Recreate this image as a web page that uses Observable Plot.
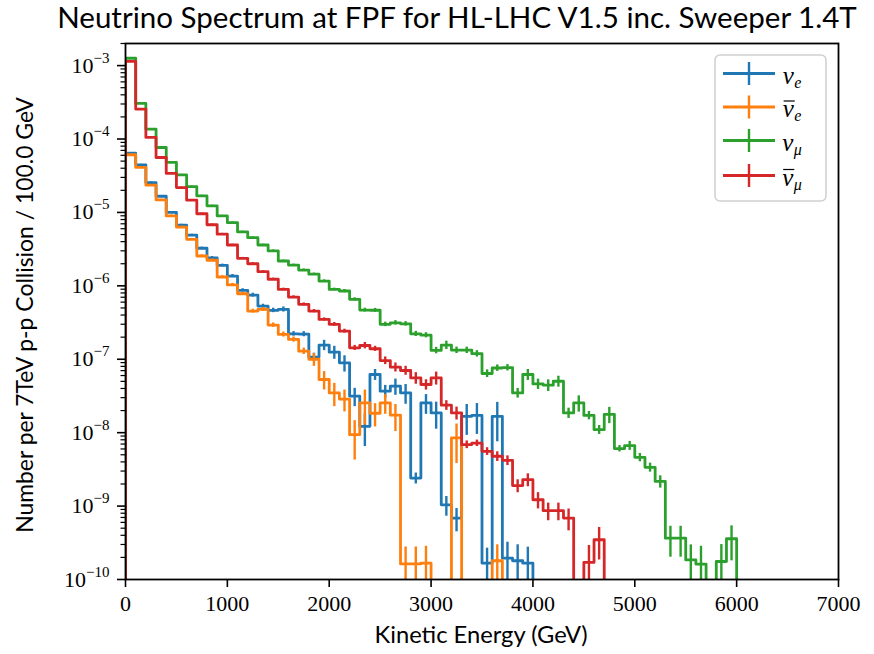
<!DOCTYPE html>
<html>
<head>
<meta charset="utf-8">
<script src="https://cdn.jsdelivr.net/npm/d3@7"></script>
<script src="https://cdn.jsdelivr.net/npm/@observablehq/plot@0.6"></script>
<style>
  body { margin: 0; background: #fff; }
  #chart { width: 874px; height: 654px; }
</style>
</head>
<body>
<div id="chart"></div>
<script>
// ---------------- data ----------------
const binWidth = 100; // GeV
const xTicks = [0, 1000, 2000, 3000, 4000, 5000, 6000, 7000];
const yTicks = [1e-10, 1e-9, 1e-8, 1e-7, 1e-6, 1e-5, 1e-4, 1e-3];
const yDomain = [1e-10, 2e-3];

const seriesKeys = ["nu_e", "nu_e_bar", "nu_mu", "nu_mu_bar"];
const seriesColors = ["#1f77b4", "#ff7f0e", "#2ca02c", "#d62728"];

// per-bin contents (bins of 100 GeV starting at 0); 0 = empty bin
const nuE = [6.4e-5, 4.45e-5, 2.55e-5, 1.66e-5, 1.0e-5, 6.7e-6, 4.9e-6, 3.25e-6, 2.41e-6, 1.9e-6,
  1.36e-6, 8.7e-7, 7.48e-7, 5.3e-7, 4.64e-7, 4.78e-7, 2.22e-7, 2.2e-7, 1.07e-7, 1.56e-7,
  1.25e-7, 8.93e-8, 3.14e-8, 1.22e-8, 6.2e-8, 3.67e-8, 4.3e-8, 3.48e-8, 2.41e-9, 2.54e-8,
  1.86e-8, 1.04e-9, 6.86e-10, 1.67e-8, 1.72e-8, 1.67e-10, 1.67e-8, 1.95e-10, 1.8e-10, 1.67e-10];
const nuEErr = [0.015, 0.015, 0.02, 0.02, 0.025, 0.03, 0.03, 0.035, 0.04, 0.04,
  0.05, 0.05, 0.06, 0.06, 0.07, 0.08, 0.07, 0.08, 0.13, 0.16,
  0.2, 0.25, 0.28, 0.47, 0.17, 0.2, 0.25, 0.3, 0.17, 0.3,
  0.4, 0.3, 0.35, 0.45, 0.45, 0.6, 0.55, 0.65, 0.65, 0.65];

const nuEBar = [6.1e-5, 4.1e-5, 2.35e-5, 1.48e-5, 8.95e-6, 6.3e-6, 4.3e-6, 2.55e-6, 2.23e-6, 1.32e-6,
  1.03e-6, 7.8e-7, 4.53e-7, 4.78e-7, 2.92e-7, 2.18e-7, 1.86e-7, 1.29e-7, 1.0e-7, 5.3e-8,
  3.48e-8, 2.86e-8, 9.4e-9, 2.54e-8, 1.84e-8, 2.54e-8, 1.73e-8, 1.63e-10, 1.63e-10, 1.67e-10,
  0, 0, 8.47e-9, 0, 0, 0, 1.8e-10];
const nuEBarErr = [0.015, 0.015, 0.02, 0.02, 0.025, 0.03, 0.03, 0.035, 0.04, 0.04,
  0.05, 0.05, 0.06, 0.06, 0.07, 0.08, 0.08, 0.1, 0.2, 0.28,
  0.35, 0.33, 0.55, 0.5, 0.35, 0.3, 0.4, 0.7, 0.7, 0.7,
  0, 0, 0.55, 0, 0, 0, 0.65];

const nuMu = [1.26e-3, 3.05e-4, 1.36e-4, 7.66e-5, 4.8e-5, 3.25e-5, 2.25e-5, 1.68e-5, 1.23e-5, 8.95e-6,
  7.26e-6, 5.42e-6, 4.53e-6, 3.6e-6, 2.99e-6, 2.18e-6, 1.92e-6, 1.64e-6, 1.44e-6, 1.16e-6,
  8.95e-7, 8.5e-7, 6.55e-7, 4.68e-7, 4.65e-7, 2.99e-7, 3.14e-7, 3.04e-7, 2.22e-7, 2.13e-7,
  1.32e-7, 1.56e-7, 1.33e-7, 1.33e-7, 1.19e-7, 6.4e-8, 7.6e-8, 7.7e-8, 3.48e-8, 6.2e-8,
  4.62e-8, 4.44e-8, 5.02e-8, 1.86e-8, 2.54e-8, 1.72e-8, 1.1e-8, 1.77e-8, 6.07e-9, 6.67e-9,
  4.61e-9, 3.37e-9, 2.17e-9, 3.66e-10, 3.66e-10, 1.85e-10, 1.62e-10, 0, 1.76e-10, 3.59e-10];
const nuMuErr = [0.005, 0.01, 0.01, 0.01, 0.015, 0.015, 0.015, 0.02, 0.02, 0.02,
  0.02, 0.025, 0.025, 0.025, 0.03, 0.03, 0.03, 0.035, 0.035, 0.04,
  0.04, 0.05, 0.05, 0.06, 0.06, 0.07, 0.07, 0.07, 0.08, 0.08,
  0.1, 0.13, 0.1, 0.1, 0.1, 0.12, 0.1, 0.1, 0.15, 0.17,
  0.16, 0.18, 0.17, 0.16, 0.25, 0.13, 0.14, 0.25, 0.1, 0.14,
  0.13, 0.14, 0.19, 0.45, 0.45, 0.6, 0.75, 0, 0.7, 0.5];

const nuMuBar = [1.14e-3, 2.56e-4, 1.05e-4, 5.6e-5, 3.4e-5, 2.18e-5, 1.47e-5, 9.6e-6, 6.8e-6, 5.05e-6,
  3.6e-6, 2.37e-6, 2.0e-6, 1.56e-6, 1.23e-6, 8.95e-7, 7.03e-7, 5.6e-7, 4.53e-7, 3.49e-7,
  2.99e-7, 2.42e-7, 1.43e-7, 1.54e-7, 1.39e-7, 9.6e-8, 7.8e-8, 7.03e-8, 5.57e-8, 4.53e-8,
  5.57e-8, 2.37e-8, 1.86e-8, 6.89e-9, 7.2e-9, 5.57e-9, 4.77e-9, 4.2e-9, 1.9e-9, 2.29e-9,
  1.22e-9, 8.65e-10, 8.65e-10, 6.86e-10, 0, 1.71e-10, 3.48e-10];
const nuMuBarErr = [0.005, 0.01, 0.01, 0.01, 0.015, 0.015, 0.02, 0.02, 0.02, 0.025,
  0.025, 0.03, 0.03, 0.03, 0.035, 0.04, 0.04, 0.045, 0.05, 0.05,
  0.06, 0.06, 0.08, 0.1, 0.08, 0.12, 0.14, 0.14, 0.18, 0.16,
  0.2, 0.15, 0.2, 0.12, 0.1, 0.12, 0.15, 0.15, 0.2, 0.2,
  0.25, 0.27, 0.27, 0.33, 0, 0.7, 0.47];

const seriesValues = [nuE, nuEBar, nuMu, nuMuBar];
const seriesErrors = [nuEErr, nuEBarErr, nuMuErr, nuMuBarErr];

// ---------------- build tables ----------------
const floorVal = yDomain[0] / 30; // empty bins fall below the axis (clipped)

function stepRows(key, values) {
  const rows = [{series: key, x: 0, y: floorVal}];
  values.forEach((v, i) => rows.push({series: key, x: i * binWidth, y: v > 0 ? v : floorVal}));
  rows.push({series: key, x: values.length * binWidth, y: floorVal});
  return rows;
}
function errRows(key, values, rel) {
  const rows = [];
  values.forEach((v, i) => {
    if (v > 0) rows.push({series: key, x: i * binWidth + binWidth / 2,
      lo: Math.max(v * (1 - rel[i]), floorVal), hi: v * (1 + rel[i])});
  });
  return rows;
}

const minorTicks = [];
for (let e = -10; e <= -3; e++) for (let m = 2; m <= 9; m++) {
  const t = m * Math.pow(10, e);
  if (t <= yDomain[1]) minorTicks.push(t);
}

const seriesMarks = [];
seriesKeys.forEach((k, i) => {
  seriesMarks.push(Plot.line(stepRows(k, seriesValues[i]), {
    x: "x", y: "y", curve: "step-after", stroke: seriesColors[i], strokeWidth: 2.8, clip: true
  }));
  seriesMarks.push(Plot.ruleX(errRows(k, seriesValues[i], seriesErrors[i]), {
    x: "x", y1: "lo", y2: "hi", stroke: seriesColors[i], strokeWidth: 2.4, clip: true
  }));
});

const svg = Plot.plot({
  width: 874, height: 654,
  marginTop: 43, marginBottom: 75, marginLeft: 125, marginRight: 36,
  style: {fontFamily: "'Liberation Serif', serif", fontSize: "22px", color: "#000", background: "#fff"},
  x: {domain: [0, 7000]},
  y: {type: "log", domain: yDomain},
  marks: [
    ...seriesMarks,
    Plot.frame({stroke: "#000", strokeWidth: 1.8}),
    Plot.axisX({ticks: xTicks, tickSize: 8, tickPadding: 8, tickFormat: d3.format("d"), label: null, strokeWidth: 1.6}),
    Plot.axisY({ticks: minorTicks, tickSize: 4.5, tickFormat: () => "", label: null, strokeWidth: 1.2}),
    Plot.axisY({ticks: yTicks, tickSize: 8, tickPadding: 8,
      tickFormat: d => "10^" + Math.round(Math.log10(d)), label: null, strokeWidth: 1.6})
  ]
});
document.getElementById("chart").appendChild(svg);

const NS = "http://www.w3.org/2000/svg";
const root = d3.select(svg);

// superscript exponents on the y tick labels
root.selectAll('g[aria-label="y-axis tick label"] text').each(function () {
  const m = this.textContent.match(/^10\^(-?\d+)$/);
  if (!m) return;
  this.textContent = "10";
  const ts = document.createElementNS(NS, "tspan");
  ts.setAttribute("dy", "-10");
  ts.setAttribute("font-size", "15");
  ts.textContent = m[1].replace("-", "\u2212");
  this.appendChild(ts);
});

// title and axis labels, fitted to the reference lengths
function fitted(sel, target, size) {
  sel.attr("font-size", size);
  const w = sel.node().getComputedTextLength();
  sel.attr("font-size", size * target / w);
  return sel;
}
const sansFont = "Lato, 'DejaVu Sans', sans-serif";
fitted(root.append("text").attr("x", 457).attr("y", 28).attr("text-anchor", "middle")
  .attr("font-family", sansFont).attr("fill", "#000")
  .text("Neutrino Spectrum at FPF for HL-LHC V1.5 inc. Sweeper 1.4T"), 800, 24);
fitted(root.append("text").attr("x", 481).attr("y", 643).attr("text-anchor", "middle")
  .attr("font-family", sansFont).attr("fill", "#000")
  .text("Kinetic Energy (GeV)"), 213, 20);
fitted(root.append("text").attr("transform", "translate(33,315) rotate(-90)").attr("text-anchor", "middle")
  .attr("font-family", sansFont).attr("fill", "#000")
  .text("Number per 7TeV p-p Collision / 100.0 GeV"), 436, 20);

// legend
const lg = root.append("g");
lg.append("rect").attr("x", 715).attr("y", 55).attr("width", 111).attr("height", 146)
  .attr("rx", 5).attr("fill", "#fff").attr("fill-opacity", 0.8)
  .attr("stroke", "#d0d0d0").attr("stroke-width", 1.5);
const legendRows = [73.5, 107, 140.5, 175.5];
const legendSub = ["e", "e", "\u03bc", "\u03bc"];
const legendBar = [false, true, false, true];
seriesKeys.forEach((k, i) => {
  const y = legendRows[i];
  lg.append("line").attr("x1", 723).attr("x2", 775).attr("y1", y).attr("y2", y)
    .attr("stroke", seriesColors[i]).attr("stroke-width", 2.8);
  lg.append("line").attr("x1", 749).attr("x2", 749).attr("y1", y - 11.5).attr("y2", y + 11.5)
    .attr("stroke", seriesColors[i]).attr("stroke-width", 2.4);
  const t = lg.append("text").attr("x", 792).attr("y", y + 10)
    .attr("font-family", "'Liberation Serif', serif").attr("font-style", "italic")
    .attr("font-size", 25).attr("fill", "#000");
  t.append("tspan").text("\u03bd");
  t.append("tspan").attr("font-size", 16).attr("dy", 4).attr("dx", 0.5).text(legendSub[i]);
  if (legendBar[i]) {
    const box = t.node().getExtentOfChar(0);
    lg.append("line").attr("x1", box.x + 1).attr("x2", box.x + box.width + 1)
      .attr("y1", y - 6).attr("y2", y - 6)
      .attr("stroke", "#000").attr("stroke-width", 1.2);
  }
});
</script>
</body>
</html>
